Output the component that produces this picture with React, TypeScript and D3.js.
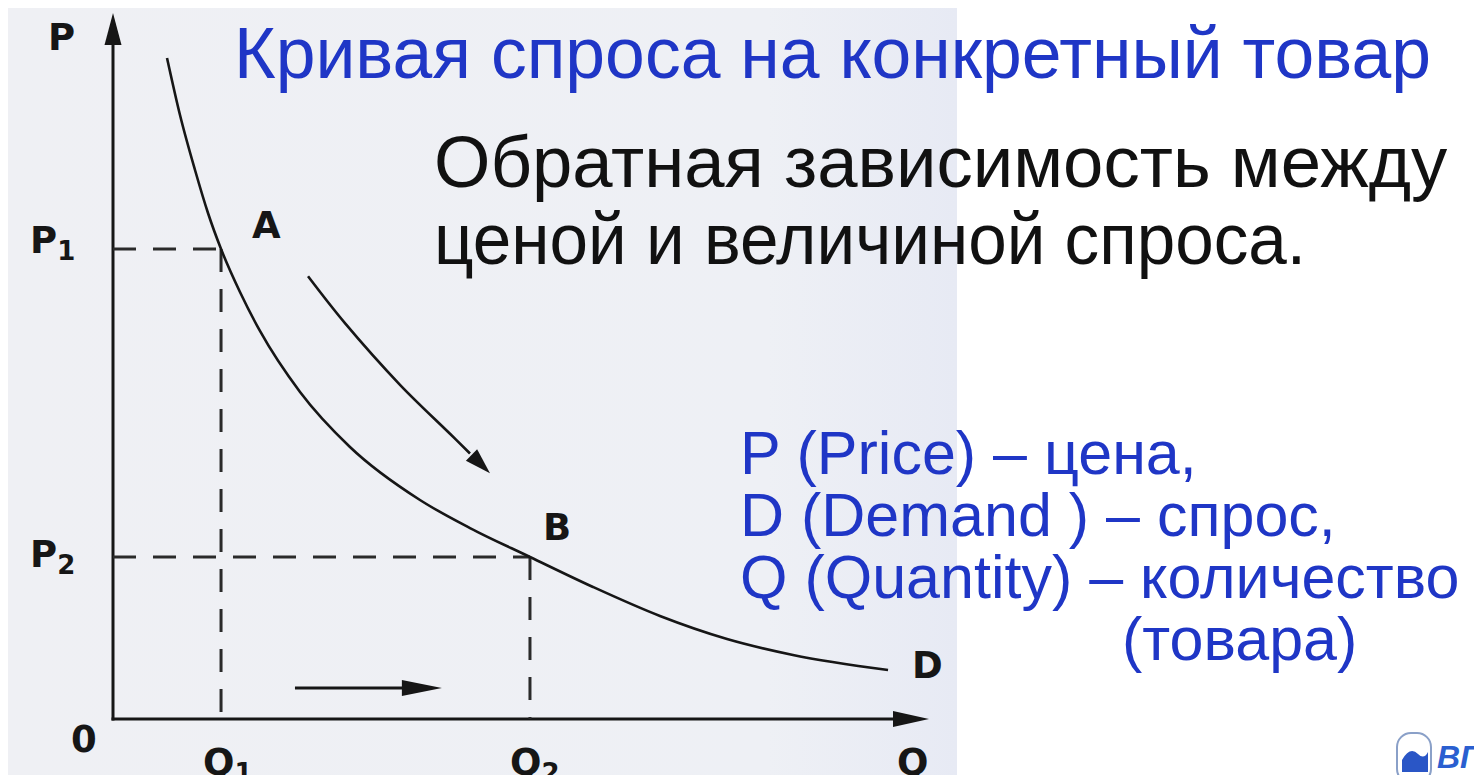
import React from "react";
import * as d3 from "d3";

// Demand curve (Q, P), in chart units 0..100
const curveQ = [6.62, 8.21, 10.05, 11.64, 13.24, 15.56, 18.01, 22.92, 29.04, 37.62, 43.75, 51.1, 58.82, 67.03, 75.25, 83.33, 94.98];
const curveP = [93.63, 85.55, 77.76, 71.67, 66.57, 60.48, 54.96, 46.32, 38.53, 31.02, 27.05, 22.95, 18.7, 14.59, 11.33, 9.07, 6.94];
// Points A and B
const pointQ = [13.24, 51.1];
const pointP = [66.57, 22.95];
const pointNames = ["A", "B"];
// Movement arrow along the curve
const moveQ = [23.9, 28.4, 35.2, 41.3, 46.2];
const moveP = [62.7, 56.1, 47.3, 40.4, 34.8];
// Arrow along the Q axis
const shiftQ = [22.3, 40.3];
const shiftP = [4.4, 4.4];

const title = "Кривая спроса на конкретный товар";
const subtitle = ["Обратная зависимость между", "ценой и величиной спроса."];
const legendLines = ["P (Price) – цена,", "D (Demand ) – спрос,", "Q (Quantity) – количество", "(товара)"];

const W = 1474;
const H = 775;
const FONT = "'Liberation Sans', Arial, sans-serif";
const LFONT = "'DejaVu Sans', 'Liberation Sans', Arial, sans-serif";
const BLUE = "#1f36c6";
const INK = "#161616";

const x = d3.scaleLinear().domain([0, 100]).range([113, 929]);
const y = d3.scaleLinear().domain([0, 100]).range([719, 13]);

function arrowHead(tipX: number, tipY: number, fromX: number, fromY: number, len: number, half: number) {
  const a = Math.atan2(tipY - fromY, tipX - fromX);
  const bx = tipX - len * Math.cos(a);
  const by = tipY - len * Math.sin(a);
  const px = -Math.sin(a) * half;
  const py = Math.cos(a) * half;
  return `M${tipX},${tipY}L${bx + px},${by + py}L${bx - px},${by - py}Z`;
}

function Label({ x0, y0, main, sub }: any) {
  return (
    <text x={x0} y={y0} fontFamily={LFONT} fontWeight="bold" fontSize={37} fill={INK}>
      {main}
      {sub ? <tspan fontSize={26} dy={7}>{sub}</tspan> : null}
    </text>
  );
}

export default function App() {
  const line = d3.line().curve(d3.curveMonotoneX);
  const pts = curveQ.map((q, i) => [x(q), y(curveP[i])] as [number, number]);
  const curvePath = line(pts) || "";

  const mvLine = d3.line().curve(d3.curveCatmullRom.alpha(0.5));
  const mv = moveQ.map((q, i) => [x(q), y(moveP[i])] as [number, number]);
  const mvEnd = mv[mv.length - 1];
  const mvPrev = mv[mv.length - 2];
  const mvLinePts = mv.slice(0, -1).concat([[
    mvEnd[0] - 0.5 * (mvEnd[0] - mvPrev[0]),
    mvEnd[1] - 0.5 * (mvEnd[1] - mvPrev[1]),
  ] as [number, number]]);
  const mvPath = mvLine(mvLinePts) || "";

  const x0 = x(0);
  const y0 = y(0);
  const xEnd = x(100);
  const yTop = y(100);

  const A = [x(pointQ[0]), y(pointP[0])];
  const B = [x(pointQ[1]), y(pointP[1])];
  const last = pts[pts.length - 1];

  return (
    <svg width={W} height={H} style={{ position: "absolute", left: 0, top: 0, background: "#ffffff" }}>
      <defs>
        <linearGradient id="panel" x1="0" x2="1" y1="0" y2="0">
          <stop offset="0" stopColor="#eff0f4" />
          <stop offset="0.8" stopColor="#eef0f5" />
          <stop offset="1" stopColor="#e7eaf4" />
        </linearGradient>
      </defs>
      <rect x={0} y={0} width={W} height={H} fill="#ffffff" />
      <rect x={8} y={8} width={949} height={H - 8} fill="url(#panel)" />

      {/* axes */}
      <line x1={x0} y1={y0 + 1.5} x2={x0} y2={yTop + 26} stroke={INK} strokeWidth={3} />
      <path d={arrowHead(x0, yTop, x0, y0, 32, 8.5)} fill={INK} />
      <line x1={x0 - 1.5} y1={y0} x2={xEnd - 28} y2={y0} stroke={INK} strokeWidth={3} />
      <path d={arrowHead(xEnd, y0, x0, y0, 36, 8)} fill={INK} />

      {/* dashed guides */}
      <g stroke="#2a2a2a" strokeWidth={3} strokeDasharray="23 17" fill="none">
        <line x1={x0} y1={A[1]} x2={A[0]} y2={A[1]} />
        <line x1={A[0]} y1={A[1]} x2={A[0]} y2={y0} />
        <line x1={x0} y1={B[1]} x2={B[0]} y2={B[1]} />
        <line x1={B[0]} y1={B[1]} x2={B[0]} y2={y0} />
      </g>

      {/* demand curve */}
      <path d={curvePath} fill="none" stroke={INK} strokeWidth={2.6} />

      {/* movement arrow */}
      <path d={mvPath} fill="none" stroke={INK} strokeWidth={2.6} />
      <path d={arrowHead(mvEnd[0], mvEnd[1], mvPrev[0], mvPrev[1], 26, 8)} fill={INK} />

      {/* shift arrow */}
      <line x1={x(shiftQ[0])} y1={y(shiftP[0])} x2={x(shiftQ[1]) - 24} y2={y(shiftP[1])} stroke={INK} strokeWidth={3} />
      <path d={arrowHead(x(shiftQ[1]), y(shiftP[1]), x(shiftQ[0]), y(shiftP[0]), 40, 8)} fill={INK} />

      {/* axis labels */}
      <Label x0={48} y0={50} main="P" />
      <Label x0={30} y0={A[1] + 4} main="P" sub="1" />
      <Label x0={30} y0={B[1] + 10} main="P" sub="2" />
      <Label x0={71} y0={y0 + 33} main="0" />
      <Label x0={A[0] - 18} y0={y0 + 56} main="Q" sub="1" />
      <Label x0={B[0] - 20} y0={y0 + 56} main="Q" sub="2" />
      <Label x0={xEnd - 32} y0={y0 + 56} main="Q" />

      {/* point labels */}
      <Label x0={A[0] + 31} y0={A[1] - 11} main={pointNames[0]} />
      <Label x0={B[0] + 13} y0={B[1] - 17} main={pointNames[1]} />
      <Label x0={last[0] + 24} y0={last[1] + 8} main="D" />

      {/* texts */}
      <text x={234} y={78} fontFamily={FONT} fontSize={71.5} fill={BLUE}>{title}</text>
      <text x={434} y={187} fontFamily={FONT} fontSize={72.5} fill="#111111">{subtitle[0]}</text>
      <text x={434} y={264} fontFamily={FONT} fontSize={72.5} fill="#111111" textLength={872} lengthAdjust="spacingAndGlyphs">{subtitle[1]}</text>
      {legendLines.map((s, i) => (
        <text key={s} x={i === 3 ? 1122 : 740} y={474 + i * 62} fontFamily={FONT} fontSize={61} fill={BLUE}>{s}</text>
      ))}

      {/* logo */}
      <g>
        <rect x={1397} y={733} width={34} height={50} rx={14} fill="#ffffff" stroke="#8aa0c8" strokeWidth={2} />
        <path d="M1402,760 q8,-14 16,-6 q6,6 10,-2 l0,20 l-26,0 Z" fill="#2a56c6" />
        <text x={1437} y={768} fontFamily={FONT} fontWeight="bold" fontStyle="italic" fontSize={32} fill="#2a5fd0">ВГУЭС</text>
      </g>
    </svg>
  );
}
